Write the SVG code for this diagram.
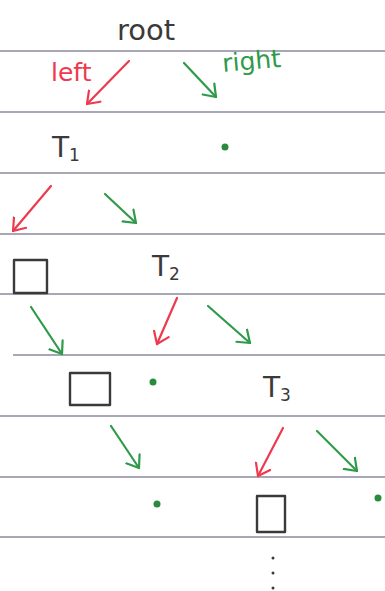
<svg xmlns="http://www.w3.org/2000/svg" width="385" height="591" viewBox="0 0 385 591">
<style>
.rule{stroke:#8c8a9c;stroke-width:1.6}
.red{stroke:#ee3a4e;stroke-width:2.2;fill:none;stroke-linecap:round;stroke-linejoin:round}
.grn{stroke:#2f9a4a;stroke-width:2.2;fill:none;stroke-linecap:round;stroke-linejoin:round}
.lbl{font-family:"DejaVu Sans","Liberation Sans",sans-serif;fill:#3a3a3a}
.box{stroke:#3a3a3a;stroke-width:2.4;fill:none;stroke-linejoin:round}
.dot{fill:#2a8a3e}
</style>
<defs>
<marker id="hr" markerUnits="userSpaceOnUse" markerWidth="24" markerHeight="24" refX="12" refY="12" orient="auto" viewBox="0 0 24 24">
<path d="M1,4 L12,12 L1,20" stroke="#ee3a4e" stroke-width="2.2" fill="none" stroke-linecap="round" stroke-linejoin="round"/>
</marker>
<marker id="hg" markerUnits="userSpaceOnUse" markerWidth="24" markerHeight="24" refX="12" refY="12" orient="auto" viewBox="0 0 24 24">
<path d="M1,4 L12,12 L1,20" stroke="#2f9a4a" stroke-width="2.2" fill="none" stroke-linecap="round" stroke-linejoin="round"/>
</marker>
</defs>
<rect width="385" height="591" fill="#ffffff"/>
<g id="rules">
<line class="rule" x1="0" y1="51" x2="385" y2="51"/>
<line class="rule" x1="0" y1="112" x2="385" y2="112"/>
<line class="rule" x1="0" y1="173" x2="385" y2="173"/>
<line class="rule" x1="0" y1="234" x2="385" y2="234"/>
<line class="rule" x1="0" y1="294" x2="385" y2="294"/>
<line class="rule" x1="13" y1="355" x2="385" y2="355"/>
<line class="rule" x1="0" y1="416" x2="385" y2="416"/>
<line class="rule" x1="0" y1="477" x2="385" y2="477"/>
<line class="rule" x1="0" y1="537" x2="385" y2="537"/>
</g>
<g id="connectors">
<line class="red" x1="129" y1="61" x2="87" y2="104" marker-end="url(#hr)"/>
<line class="grn" x1="184" y1="63" x2="216" y2="97" marker-end="url(#hg)"/>
<line class="red" x1="51" y1="186" x2="13" y2="231" marker-end="url(#hr)"/>
<line class="grn" x1="105" y1="194" x2="136" y2="223" marker-end="url(#hg)"/>
<line class="grn" x1="31" y1="307" x2="62" y2="354" marker-end="url(#hg)"/>
<line class="red" x1="177" y1="298" x2="157" y2="344" marker-end="url(#hr)"/>
<line class="grn" x1="208" y1="306" x2="250" y2="343" marker-end="url(#hg)"/>
<line class="grn" x1="111" y1="426" x2="139" y2="468" marker-end="url(#hg)"/>
<line class="red" x1="283" y1="428" x2="258" y2="476" marker-end="url(#hr)"/>
<line class="grn" x1="317" y1="431" x2="357" y2="471" marker-end="url(#hg)"/>
</g>
<g id="root"><text class="lbl" x="117" y="40" font-size="29">root</text></g>
<g id="label-left"><text x="51" y="81" font-size="25" fill="#ee3a4e" font-family="'DejaVu Sans','Liberation Sans',sans-serif">left</text></g>
<g id="label-right"><text x="223" y="72" font-size="25" fill="#2f9a4a" font-family="'DejaVu Sans','Liberation Sans',sans-serif" transform="rotate(-5 223 72)">right</text></g>
<g id="T1"><text class="lbl" x="52" y="157" font-size="28">T<tspan font-size="17" dy="4">1</tspan></text></g>
<g id="dot1"><circle class="dot" cx="225" cy="147" r="3.5"/></g>
<g id="box1"><rect class="box" x="14" y="260" width="33" height="33"/></g>
<g id="T2"><text class="lbl" x="152" y="276" font-size="28">T<tspan font-size="17" dy="4">2</tspan></text></g>
<g id="box2"><rect class="box" x="70" y="373" width="40" height="32"/></g>
<g id="dot2"><circle class="dot" cx="153" cy="382" r="3.5"/></g>
<g id="T3"><text class="lbl" x="263" y="397" font-size="28">T<tspan font-size="17" dy="4">3</tspan></text></g>
<g id="dot3"><circle class="dot" cx="157" cy="504" r="3.5"/></g>
<g id="box3"><rect class="box" x="257" y="496" width="28" height="36"/></g>
<g id="dot4"><circle class="dot" cx="378" cy="498" r="3.5"/></g>
<g id="ellipsis">
<circle cx="273" cy="558" r="1.5" fill="#3a3a3a"/>
<circle cx="273" cy="573" r="1.5" fill="#3a3a3a"/>
<circle cx="273" cy="588" r="1.5" fill="#3a3a3a"/>
</g>
</svg>
